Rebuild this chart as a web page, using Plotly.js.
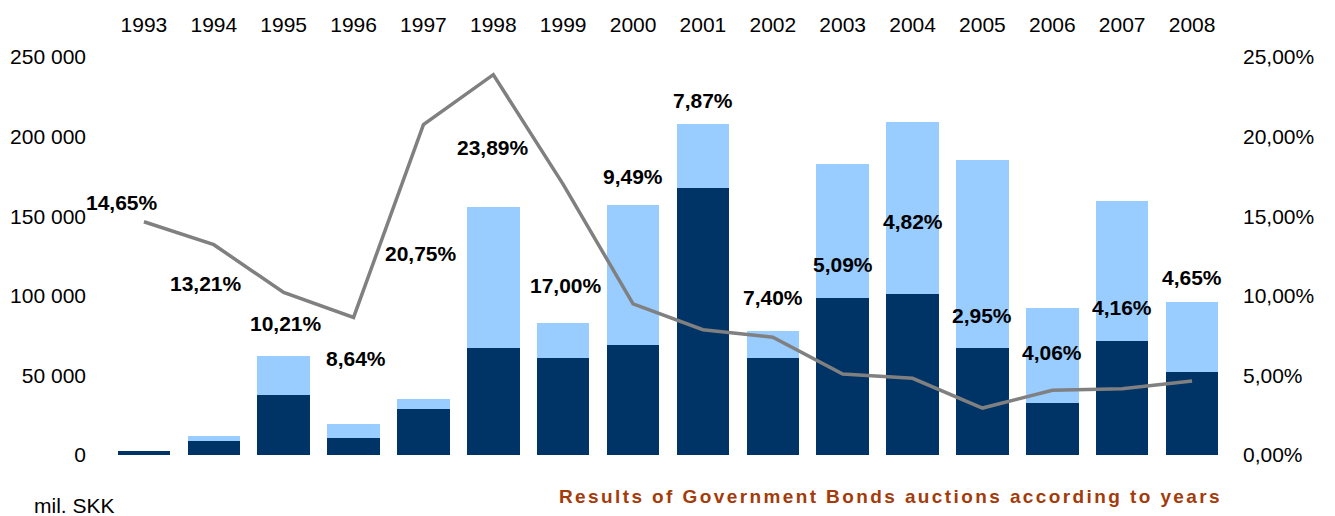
<!DOCTYPE html>
<html>
<head>
<meta charset="utf-8">
<script src="https://cdn.plot.ly/plotly-3.0.1.min.js"></script>
<style>
html,body{margin:0;padding:0;background:#fff;}
#chart{width:1335px;height:516px;}
.spaced text.annotation-text{letter-spacing:2.4px;}
</style>
</head>
<body>
<div id="chart"></div>
<script>
// Data (mil. SKK and %)
const years = ['1993','1994','1995','1996','1997','1998','1999','2000','2001','2002','2003','2004','2005','2006','2007','2008'];
const darkValues  = [2500, 8800, 37700, 10700, 28900, 67200, 60900, 69100, 167700, 60900, 98600, 101100, 67200, 32700, 71600, 52100];
const totalValues = [2500, 11900, 62200, 19500, 35200, 155800, 82900, 157000, 207900, 77900, 182800, 209100, 185300, 92300, 159500, 96100];
const lightValues = totalValues.map((t, i) => t - darkValues[i]);
const yields = [14.65, 13.21, 10.21, 8.64, 20.75, 23.89, 17.00, 9.49, 7.87, 7.40, 5.09, 4.82, 2.95, 4.06, 4.16, 4.65];
const yieldLabels = ['14,65%','13,21%','10,21%','8,64%','20,75%','23,89%','17,00%','9,49%','7,87%','7,40%','5,09%','4,82%','2,95%','4,06%','4,16%','4,65%'];
const leftTicks = [0, 50000, 100000, 150000, 200000, 250000];
const leftTickText = ['0','50 000','100 000','150 000','200 000','250 000'];
const rightTicks = [0, 5, 10, 15, 20, 25];
const rightTickText = ['0,00%','5,00%','10,00%','15,00%','20,00%','25,00%'];

// label placement offsets (px)
const labelDx = [-22, -8, 2, 2, -2, 0, 3, 0, 0, 0, 0, 0, 0, 0, 0, 0];
const labelDy = [19, -39, -31, -41, -129, -73, -101, 127, 229, 40, 109, 157, 93, 38, 81, 103];

const FONT = 'Liberation Sans, Arial, sans-serif';

const traces = [
  {type:'bar', x:years, y:darkValues, marker:{color:'#003366'}, hoverinfo:'skip', showlegend:false},
  {type:'bar', x:years, y:lightValues, marker:{color:'#99CCFF'}, hoverinfo:'skip', showlegend:false},
  {type:'scatter', mode:'lines', x:years, y:yields, yaxis:'y2', line:{color:'#808080', width:3.5}, hoverinfo:'skip', showlegend:false}
];

const annotations = yields.map((v, i) => ({
  x: i, y: v, xref:'x', yref:'y2', text: '<b>' + yieldLabels[i] + '</b>', showarrow:false,
  xshift: labelDx[i], yshift: labelDy[i],
  font:{family:FONT, size:21, color:'#000'}
}));
annotations.push({
  xref:'paper', yref:'paper', x:-0.069, y:-0.128, xanchor:'left', yanchor:'middle',
  text:'mil. SKK', showarrow:false, font:{family:FONT, size:21, color:'#000'}
});
annotations.push({
  xref:'paper', yref:'paper', x:0.6986, y:-0.1055, xanchor:'center', yanchor:'middle',
  text:'<b>Results of Government Bonds auctions according to years</b>', showarrow:false,
  font:{family:FONT, size:19, color:'#A33B0B'}
});

const layout = {
  width:1335, height:516,
  margin:{l:109, r:108, t:57, b:61, pad:0},
  paper_bgcolor:'#fff', plot_bgcolor:'#fff',
  barmode:'stack', bargap:0.25,
  font:{family:FONT, size:21, color:'#000'},
  xaxis:{side:'top', type:'category', range:[-0.5, years.length - 0.5], autorange:false,
         showline:false, showgrid:false, zeroline:false, ticks:'', tickfont:{size:21}, ticklabelstandoff:20},
  yaxis:{range:[0,250000], tickvals:leftTicks, ticktext:leftTickText, showgrid:false, zeroline:false,
         showline:false, ticks:'', tickfont:{size:21}, ticklabelstandoff:22},
  yaxis2:{range:[0,25], overlaying:'y', side:'right', tickvals:rightTicks, ticktext:rightTickText,
          showgrid:false, zeroline:false, showline:false, ticks:'', tickfont:{size:21}, ticklabelstandoff:15},
  annotations: annotations
};

Plotly.newPlot('chart', traces, layout, {staticPlot:true}).then(() => {
  const anns = document.querySelectorAll('#chart .annotation');
  const last = anns[anns.length - 1];
  if (last) last.classList.add('spaced');
});
</script>
</body>
</html>
